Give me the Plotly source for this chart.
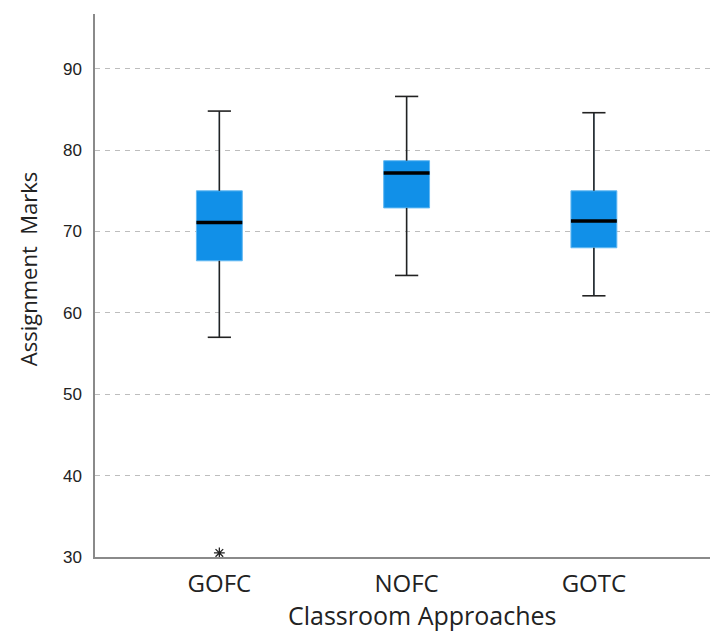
import plotly.graph_objects as go

categories = ["GOFC", "NOFC", "GOTC"]
lower_whisker = [57.0, 64.6, 62.1]
q1_values = [66.4, 72.9, 68.0]
median_values = [71.1, 77.2, 71.3]
q3_values = [75.0, 78.7, 75.0]
upper_whisker = [84.8, 86.6, 84.6]
outlier_group = [0]
outlier_values = [30.5]
y_tick_values = [30, 40, 50, 60, 70, 80, 90]
x_title = "Classroom Approaches"
y_title = "Assignment  Marks"

xpos = list(range(len(categories)))
BOX_W = 0.245
CAP_HALF = 0.062

fig = go.Figure()

fig.add_trace(go.Box(
    x=xpos,
    q1=q1_values, median=median_values, q3=q3_values,
    lowerfence=lower_whisker, upperfence=upper_whisker,
    width=BOX_W,
    fillcolor="#1190E8",
    line=dict(color="#62B8F2", width=1),
    whiskerwidth=0,
    boxpoints=False,
    showlegend=False,
    hoverinfo="skip",
))

# whiskers and caps (black)
wx, wy = [], []
for i, x in enumerate(xpos):
    wx += [x, x, None, x, x, None,
           x - CAP_HALF, x + CAP_HALF, None, x - CAP_HALF, x + CAP_HALF, None]
    wy += [q3_values[i], upper_whisker[i], None, q1_values[i], lower_whisker[i], None,
           upper_whisker[i], upper_whisker[i], None, lower_whisker[i], lower_whisker[i], None]
fig.add_trace(go.Scatter(x=wx, y=wy, mode="lines",
                         line=dict(color="#222222", width=1.6),
                         showlegend=False, hoverinfo="skip"))

# medians
mx, my = [], []
for i, x in enumerate(xpos):
    mx += [x - BOX_W / 2, x + BOX_W / 2, None]
    my += [median_values[i], median_values[i], None]
fig.add_trace(go.Scatter(x=mx, y=my, mode="lines",
                         line=dict(color="#000000", width=3.5),
                         showlegend=False, hoverinfo="skip"))

# outlier
fig.add_trace(go.Scatter(
    x=[xpos[g] for g in outlier_group], y=outlier_values, mode="markers",
    marker=dict(symbol="asterisk-open", size=9, color="#222222",
                line=dict(color="#222222", width=1.3)),
    cliponaxis=False, showlegend=False, hoverinfo="skip"))

fig.update_layout(
    width=710, height=631,
    margin=dict(l=95, r=0, t=14, b=74),
    paper_bgcolor="white", plot_bgcolor="white",
    xaxis=dict(
        range=[-0.664, 2.62],
        tickvals=xpos, ticktext=categories,
        showgrid=False, zeroline=False,
        showline=True, linecolor="#8a8a8a", linewidth=1.5,
        ticks="", ticklabelstandoff=4,
        tickfont=dict(family="Open Sans", size=24, color="#222222"),
    ),
    yaxis=dict(
        range=[30, 96.73],
        tickvals=y_tick_values,
        showgrid=True, gridcolor="#bdbdbd", gridwidth=1, griddash="5px,5px",
        zeroline=False,
        showline=True, linecolor="#8a8a8a", linewidth=1.5,
        ticks="", ticklabelstandoff=8,
        tickfont=dict(family="Liberation Sans", size=17, color="#222222"),
    ),
    annotations=[
        dict(text=x_title, xref="paper", yref="paper", x=0.532, y=-0.107,
             xanchor="center", yanchor="middle", showarrow=False,
             font=dict(family="Open Sans", size=25, color="#222222")),
        dict(text=y_title, xref="paper", yref="paper", x=-0.109, y=0.53,
             xanchor="center", yanchor="middle", showarrow=False, textangle=-90,
             font=dict(family="Open Sans", size=22, color="#222222")),
    ],
)

fig.write_html("out.html", config={"displayModeBar": False},
               post_script="document.body.style.margin='0';document.body.style.overflow='hidden';")
